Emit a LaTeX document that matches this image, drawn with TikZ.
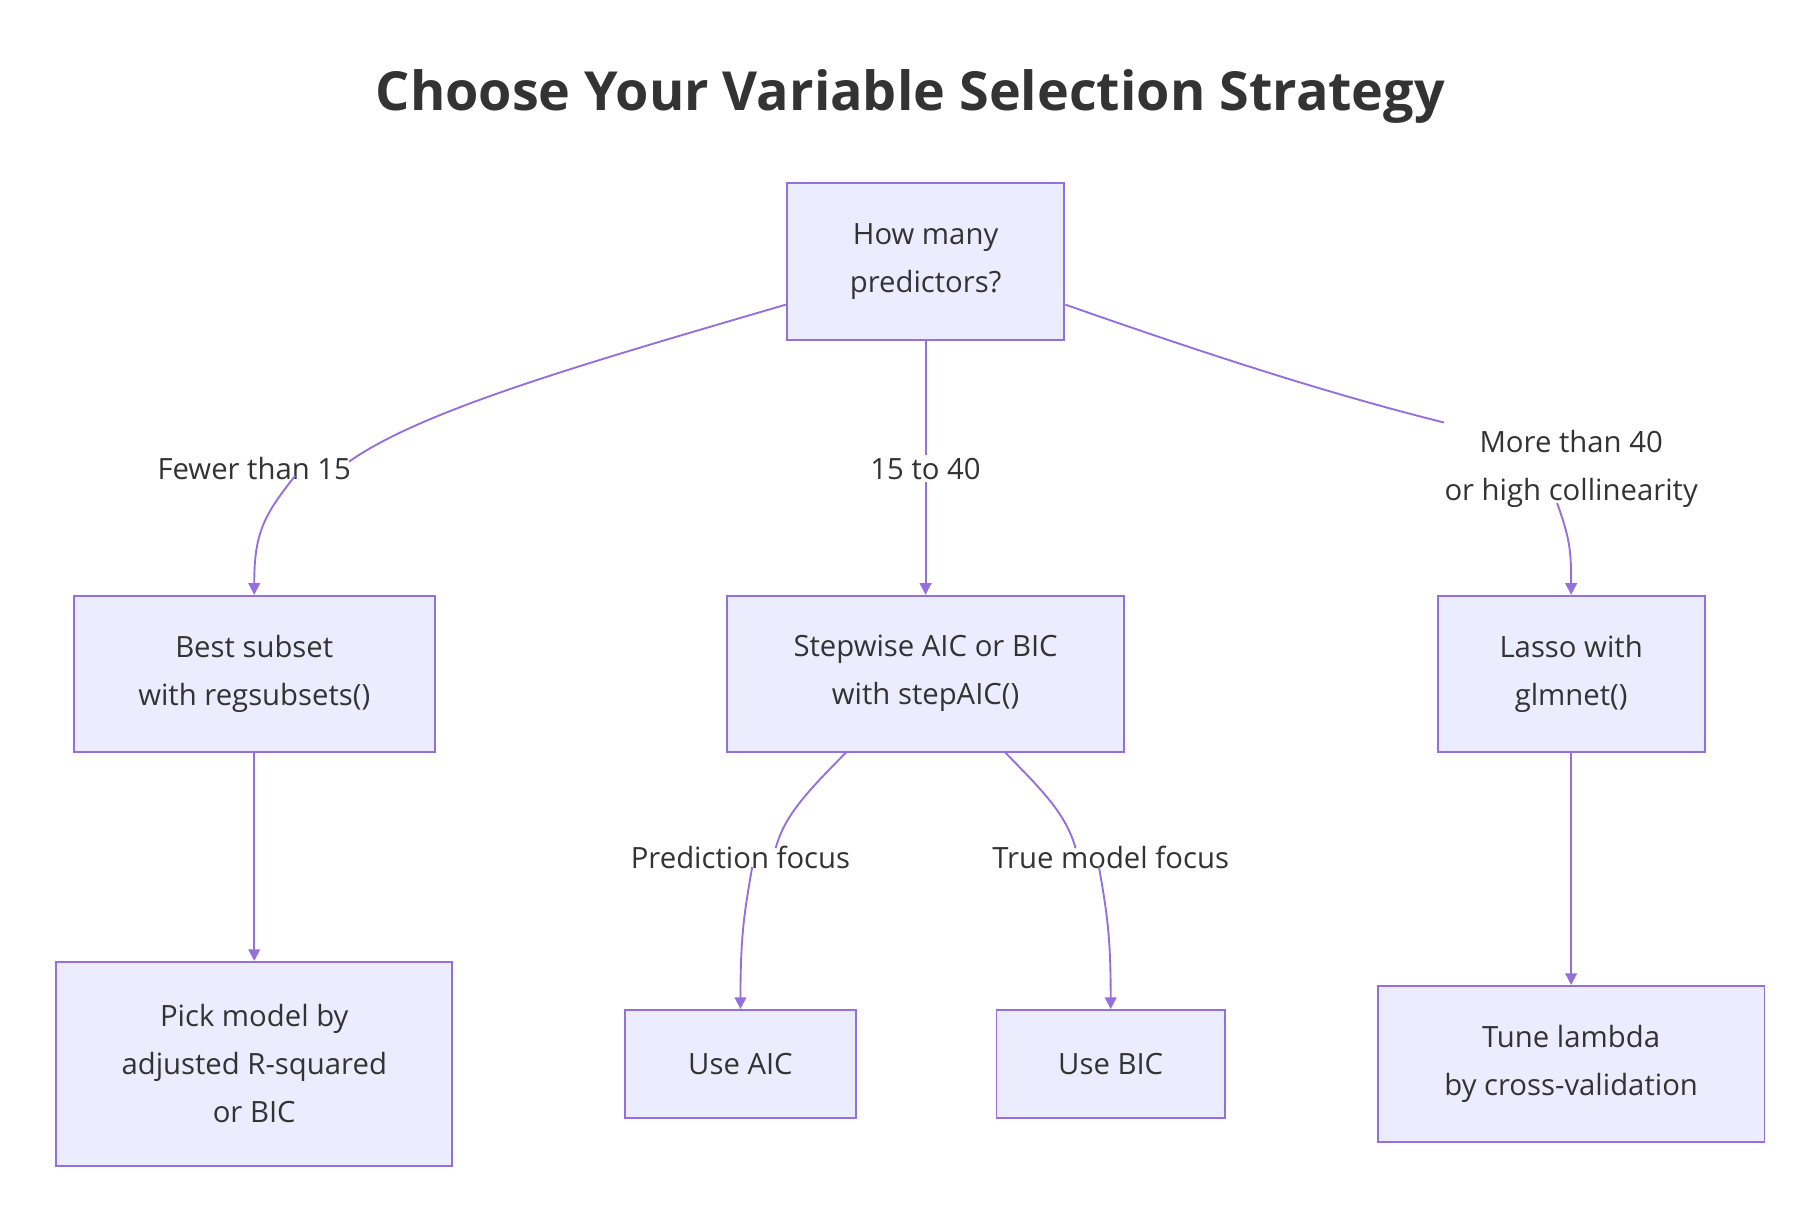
\documentclass[tikz,border=0pt]{standalone}
\usepackage{fontspec}
\setmainfont{Open Sans}
\usetikzlibrary{arrows.meta}
\definecolor{edge}{HTML}{9370DB}
\definecolor{boxfill}{HTML}{ECECFF}
\definecolor{txt}{HTML}{333333}
\begin{document}
\begin{tikzpicture}[x=0.5pt,y=-0.5pt,
  box/.style={draw=edge,fill=boxfill,line width=0.8pt,inner sep=0pt,align=center,text=txt,font=\fontsize{12.5}{20.5}\selectfont},
  lbl/.style={fill=white,inner sep=1pt,align=center,text=txt,font=\fontsize{12.5}{20.5}\selectfont},
  line/.style={draw=edge,line width=0.8pt},
  arr/.style={line,-{Triangle[length=5pt,width=5pt]}}]
\useasboundingbox (0,0) rectangle (1550,1040);
\node[text=txt,font=\fontsize{23}{28}\selectfont\bfseries] (title) at (777,82) {Choose Your Variable Selection Strategy};
\node[box,minimum width=118.5pt,minimum height=67pt] (top) at (790,223) {How many\\predictors?};
\node[box,minimum width=154pt,minimum height=66.5pt] (best) at (217,575) {Best subset\\with regsubsets()};
\node[box,minimum width=169.5pt,minimum height=66.5pt] (step) at (790,575) {Stepwise AIC or BIC\\with stepAIC()};
\node[box,minimum width=114pt,minimum height=66.5pt] (lasso) at (1341,575) {Lasso with\\glmnet()};
\node[box,minimum width=169pt,minimum height=87pt] (pick) at (217,908) {Pick model by\\adjusted R-squared\\or BIC};
\node[box,minimum width=98.5pt,minimum height=46pt] (aic) at (632,908) {Use AIC};
\node[box,minimum width=97.5pt,minimum height=46pt] (bic) at (948,908) {Use BIC};
\node[box,minimum width=165pt,minimum height=66.5pt] (tune) at (1341,908) {Tune lambda\\by cross-validation};
\node[lbl] (l1) at (217,400) {Fewer than 15};
\node[lbl] (l2) at (790,400) {15 to 40};
\node[lbl] (l3) at (1341,400) {More than 40\\or high collinearity};
\node[lbl] (l4) at (632,732) {Prediction focus};
\node[lbl] (l5) at (948,732) {True model focus};
% top -> best
\draw[line] ([yshift=-37*0.5pt]top.west) .. controls (500,310) and (360,350) .. ([xshift=-2pt,yshift=-3pt]l1.north east);
\draw[arr] ([xshift=-25pt,yshift=3pt]l1.south east) .. controls (225,440) and (217,455) .. (best.north);
% top -> step
\draw[line] (top.south) -- (l2.north);
\draw[arr] (l2.south) -- (step.north);
% top -> lasso
\draw[line] ([yshift=-37*0.5pt]top.east) .. controls (1080,320) and (1170,345) .. ([xshift=1pt,yshift=2pt]l3.north west);
\draw[arr] ([xshift=-6pt,yshift=3pt]l3.south) .. controls (1340,460) and (1341,470) .. (lasso.north);
% best -> pick, lasso -> tune
\draw[arr] (best.south) -- (pick.north);
\draw[arr] (lasso.south) -- (tune.north);
% step -> aic/bic
\draw[line] ([xshift=-34pt]step.south) .. controls (690,675) and (670,695) .. ([xshift=15pt,yshift=-2pt]l4.north);
\draw[arr] ([xshift=5pt,yshift=2pt]l4.south) .. controls (635,780) and (632,800) .. (aic.north);
\draw[line] ([xshift=34pt]step.south) .. controls (890,675) and (910,695) .. ([xshift=-15pt,yshift=-2pt]l5.north);
\draw[arr] ([xshift=-5pt,yshift=2pt]l5.south) .. controls (945,780) and (948,800) .. (bic.north);
\end{tikzpicture}
\end{document}
